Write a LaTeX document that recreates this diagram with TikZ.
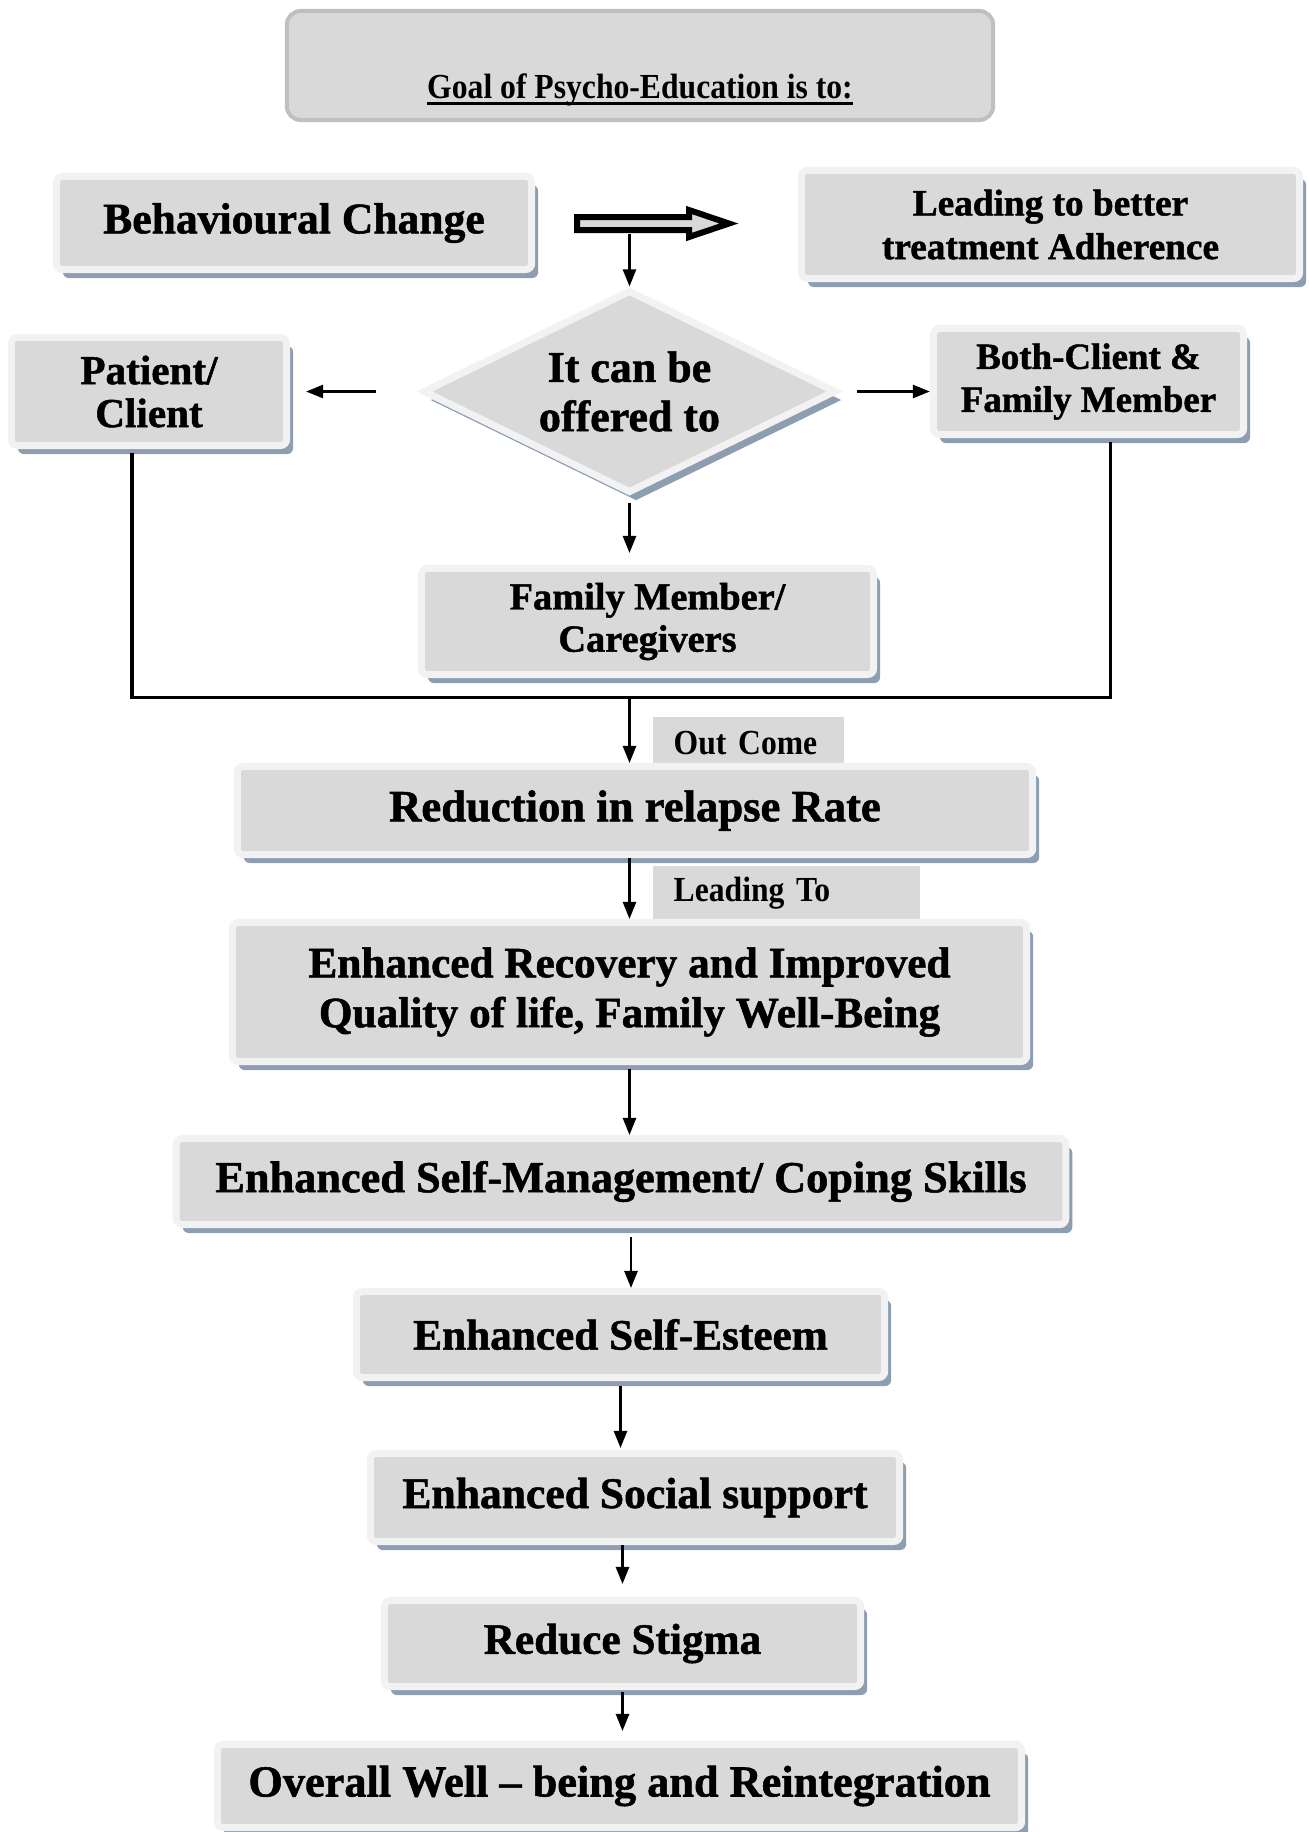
\documentclass[tikz,border=0pt]{standalone}
\usepackage{fontspec}
\setmainfont{Liberation Serif}[BoldFeatures={FakeBold=1.2}]
\newfontfamily\narrowserif[FakeStretch=0.9]{Liberation Serif}
\usetikzlibrary{arrows.meta,shapes.geometric,shadows}

\definecolor{boxfill}{HTML}{D9D9D9}
\definecolor{boxrim}{HTML}{F2F2F2}
\definecolor{boxshade}{HTML}{8D9DB2}
\definecolor{titlerim}{HTML}{BFBFBF}
\newcommand{\fsz}[2]{\fontsize{#1}{#2}\selectfont\bfseries}
\newcommand{\ulbold}[1]{\setbox0\hbox{#1}\rlap{\rule[-1.9pt]{\wd0}{0.9pt}}\box0}

\begin{document}
\begin{tikzpicture}[x=0.01cm, y=-0.01cm,
    shadowed/.style={fill=boxfill, draw=boxrim, line width=0.07cm, align=center, inner sep=0pt,
        drop shadow={shadow xshift=0.065cm, shadow yshift=-0.085cm, fill=boxshade, opacity=1}},
    flowbox/.style={shadowed, rectangle, rounded corners=0.06cm},
    offerbox/.style={shadowed, diamond, aspect=2},
    tagbox/.style={rectangle, fill=boxfill, anchor=north west, inner xsep=0.21cm, inner ysep=0pt,
        align=left, font=\narrowserif\fontsize{10}{12}\selectfont\bfseries},
    arr/.style={line width=0.025cm, -{Triangle[length=0.17cm,width=0.13cm]}},
    joinline/.style={line width=0.03cm}]
    \useasboundingbox (0,0) rectangle (1309,1832);

    % title
    \node[rectangle, rounded corners=0.14cm, fill=boxfill, draw=titlerim, line width=0.04cm,
        minimum width=7.06cm, minimum height=1.09cm, text height=0.70cm, text depth=0.05cm,
        font=\narrowserif\fontsize{10}{12}\selectfont\bfseries] (goal) at (640,65.5)
        {\ulbold{Goal of Psycho-Education is to:}};

    % top row
    \node[flowbox, minimum width=4.75cm, minimum height=0.93cm, font=\fsz{12.4}{14}] (behav) at (294,223) {Behavioural Change};
    \node[flowbox, minimum width=4.98cm, minimum height=1.08cm, font=\fsz{10.6}{12.4}] (adhere) at (1050.5,224.5) {Leading to better\\treatment Adherence};
    \draw[line width=0.06cm, fill=boxfill] (577,217) -- (689,217) -- (689,210) -- (729,223.5)
        -- (689,237) -- (689,230) -- (577,230) -- cycle;
    \coordinate (bigarrow) at (629.5,234);

    % who it is offered to
    \node[offerbox, minimum width=4.13cm, minimum height=2.03cm, font=\fsz{12.5}{14}] (offer) at (629.5,391.5) {It can be\\offered to};
    \node[flowbox, minimum width=2.75cm, minimum height=1.08cm, font=\fsz{11.7}{12.2}] (patient) at (149,391.5) {Patient/\\Client};
    \node[flowbox, minimum width=3.10cm, minimum height=1.06cm, font=\fsz{10.5}{12.2}] (both) at (1088.5,381.5) {Both-Client \&\\Family Member};
    \node[flowbox, minimum width=4.52cm, minimum height=1.06cm, font=\fsz{10.9}{12}] (family) at (647.5,621.5) {Family Member/\\Caregivers};

    \draw[arr] (bigarrow) -- (offer.north);
    \draw[arr, shorten <=0.43cm, shorten >=0.16cm] (offer.west) -- (patient.east);
    \draw[arr, shorten <=0.17cm] (offer.east) -- (offer.east -| both.west);
    \draw[arr, shorten <=0.06cm, shorten >=0.12cm] (offer.south) -- (offer.south |- family.north);

    \coordinate (joinL) at (132,697);
    \coordinate (joinR) at (1110,697);
    \coordinate (joinM) at (629.5,697);
    \draw[joinline, shorten <=0.04cm, shorten >=0.04cm] (patient.south -| joinL) -- (joinL) -- (joinR) -- (both.south -| joinR);

    % outcomes
    \node[tagbox, text width=1.49cm, minimum height=0.52cm] (outcome) at (652,716) {Out Come};
    \node[flowbox, minimum width=7.95cm, minimum height=0.88cm, font=\fsz{12.7}{14}] (reduce) at (635,810.5) {Reduction in relapse Rate};
    \draw[arr] (joinM) -- (joinM |- reduce.north);

    \node[tagbox, text width=2.25cm, minimum height=0.55cm] (leadto) at (652,865) {Leading To};
    \node[flowbox, minimum width=7.94cm, minimum height=1.39cm, font=\fsz{12.3}{14.2}] (recover) at (629.5,992) {Enhanced Recovery and Improved\\Quality of life, Family Well-Being};
    \draw[arr] (reduce.south -| recover.north) -- (recover.north);

    \node[flowbox, minimum width=8.89cm, minimum height=0.86cm, font=\fsz{12.6}{14}] (selfman) at (621,1181.5) {Enhanced Self-Management/ Coping Skills};
    \draw[arr, shorten <=0.04cm] (recover.south) -- (recover.south |- selfman.north);

    \node[flowbox, minimum width=5.28cm, minimum height=0.86cm, font=\fsz{12.3}{14}] (esteem) at (620.5,1334.5) {Enhanced Self-Esteem};
    \coordinate (smfoot) at ([xshift=0.1cm]selfman.south);
    \draw[arr, shorten <=0.09cm] (smfoot) -- (smfoot |- esteem.north);

    \node[flowbox, minimum width=5.29cm, minimum height=0.88cm, font=\fsz{12.4}{14}] (social) at (635,1497.5) {Enhanced Social support};
    \draw[arr, shorten <=0.05cm, shorten >=0.02cm] (esteem.south) -- (esteem.south |- social.north);

    \node[flowbox, minimum width=4.76cm, minimum height=0.86cm, font=\fsz{12.3}{14}] (stigma) at (622.5,1643.5) {Reduce Stigma};
    \draw[arr, shorten >=0.13cm] (social.south -| stigma.north) -- (stigma.north);

    \node[flowbox, minimum width=8.04cm, minimum height=0.83cm, font=\fsz{12.6}{14}] (overall) at (619.5,1786) {Overall Well -- being and Reintegration};
    \draw[arr, shorten <=0.02cm, shorten >=0.10cm] (stigma.south) -- (stigma.south |- overall.north);
\end{tikzpicture}
\end{document}
